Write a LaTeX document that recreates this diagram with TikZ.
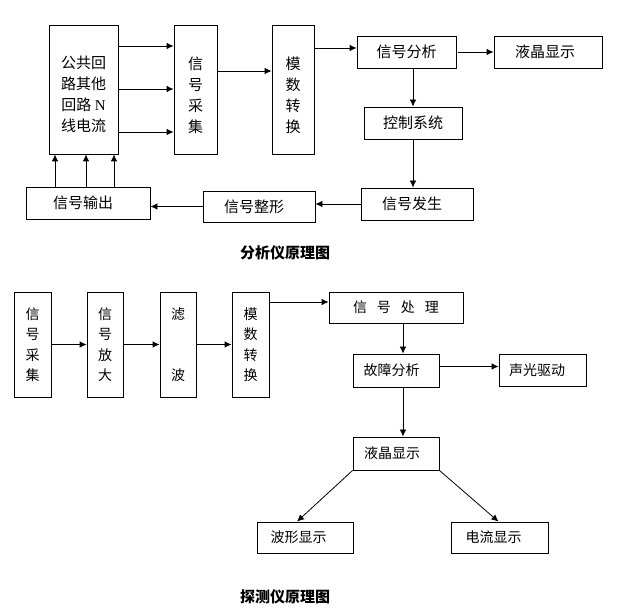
\documentclass[tikz,border=0pt]{standalone}
\usepackage{fontspec}
\setmainfont{Liberation Serif}
\newfontfamily\cjk{Noto Sans CJK SC}
\usetikzlibrary{arrows.meta, calc, positioning}

\begin{document}
\begin{tikzpicture}[x=1pt, y=-1pt,
            >={Latex[length=7pt,width=6.5pt]},
            box/.style={draw, rectangle, line width=0.8pt, inner sep=0pt, align=center,
                        font=\cjk\fontsize{15}{21}\selectfont},
            sbox/.style={box, font=\cjk\fontsize{14}{20.5}\selectfont},
            arr/.style={->, line width=0.8pt},
            title/.style={font=\cjk\bfseries\fontsize{15}{18}\selectfont}]
        \useasboundingbox (0,0) rectangle (627,609);
        \node[box, minimum width=69pt, minimum height=129pt] (line) at (83.5,89.5) {\rule{0pt}{22pt}公共回\\路其他\\回路 {\rmfamily N}\\线电流};
        \node[box, minimum width=43pt, minimum height=129pt] (collect) at (195.5,89.5) {\rule{0pt}{24pt}信\\号\\采\\集};
        \node[box, minimum width=42pt, minimum height=129pt] (adc) at (293,89.5) {\rule{0pt}{24pt}模\\数\\转\\换};
        \node[box, minimum width=99pt, minimum height=32pt] (analyse) at (406.5,52) {信号分析};
        \node[box, minimum width=108pt, minimum height=32pt] (lcd) at (548,52) {液晶显示\hspace*{6pt}};
        \node[box, minimum width=98pt, minimum height=32pt] (control) at (413,123) {控制系统};
        \node[box, minimum width=112pt, minimum height=32pt] (gen) at (417,204) {信号发生\hspace*{10pt}};
        \node[box, minimum width=112pt, minimum height=31pt] (shape) at (259,206.5) {信号整形\hspace*{10pt}};
        \node[box, minimum width=124pt, minimum height=32pt] (output) at (88,203) {信号输出\hspace*{10pt}};
        \node[title] (cap1) at (285,253) {分析仪原理图};
        \foreach \dy [count=\i] in {43.5,0.5,-42.5} {
          \path ([yshift=\dy pt]line.east) coordinate (l\i);
          \draw[arr] (l\i) -- (l\i -| collect.west);
        }
        \path ([yshift=18.5pt]collect.east) coordinate (c1);
        \draw[arr] (c1) -- (c1 -| adc.west);
        \path ([yshift=4pt]analyse.west) coordinate (a1);
        \draw[arr] (a1 -| adc.east) -- (a1);
        \draw[arr] ([xshift=2pt]analyse.east) -- (lcd.west);
        \draw[arr] (control.north |- analyse.south) -- (control.north);
        \draw[arr] (control.south) -- (control.south |- gen.north);
        \draw[arr] (gen.west) -- (gen.west -| shape.east);
        \draw[arr] (shape.west) -- (shape.west -| output.east);
        \foreach \dx [count=\i] in {-33,-2,26} {
          \path ([xshift=\dx pt]output.north) coordinate (o\i);
          \draw[arr] (o\i) -- (o\i |- line.south);
        }
        \node[sbox, minimum width=37pt, minimum height=105pt] (pick) at (32.5,344.5) {信\\号\\采\\集};
        \node[sbox, minimum width=36pt, minimum height=105pt] (amp) at (105,344.5) {信\\号\\放\\大};
        \node[sbox, minimum width=36pt, minimum height=105pt] (filter) at (178,344.5) {滤\\[41pt]波};
        \node[sbox, minimum width=37pt, minimum height=105pt] (adc2) at (250.5,344.5) {模\\数\\转\\换};
        \node[sbox, minimum width=134pt, minimum height=31pt] (proc) at (396,307.5) {信\hspace{10pt}号\hspace{10pt}处\hspace{10pt}理};
        \node[sbox, minimum width=86pt, minimum height=33pt] (fault) at (396,370.5) {故障分析\hspace*{9pt}};
        \node[sbox, minimum width=87pt, minimum height=32pt] (alarm) at (542.5,370) {声光驱动\hspace*{11pt}};
        \node[sbox, minimum width=86pt, minimum height=33pt] (lcd2) at (396,453.5) {液晶显示\hspace*{8pt}};
        \node[sbox, minimum width=96pt, minimum height=31pt] (wave) at (305,537.5) {波形显示\hspace*{13pt}};
        \node[sbox, minimum width=97pt, minimum height=31pt] (amps) at (499.5,537.5) {电流显示\hspace*{12pt}};
        \node[title] (cap2) at (285,597) {探测仪原理图};
        \draw[arr] (pick) -- (amp);
        \draw[arr] (amp) -- (filter);
        \draw[arr] (filter) -- (adc2);
        \path ([yshift=42.5pt]adc2.east) coordinate (d1);
        \draw[arr] (d1) -- (d1 -| proc.west);
        \path ([xshift=7pt]proc.south) coordinate (p1);
        \draw[arr] (p1) -- (p1 |- fault.north);
        \path ([yshift=4pt]fault.east) coordinate (f1);
        \draw[arr] (f1) -- (f1 -| alarm.west);
        \path ([xshift=7pt]fault.south) coordinate (f2);
        \draw[arr] (f2) -- (f2 |- lcd2.north);
        \draw[arr] (lcd2.south west) -- ([xshift=-8pt]wave.north);
        \draw[arr] (lcd2.south east) -- ([xshift=-1pt]amps.north);
\end{tikzpicture}
\end{document}
